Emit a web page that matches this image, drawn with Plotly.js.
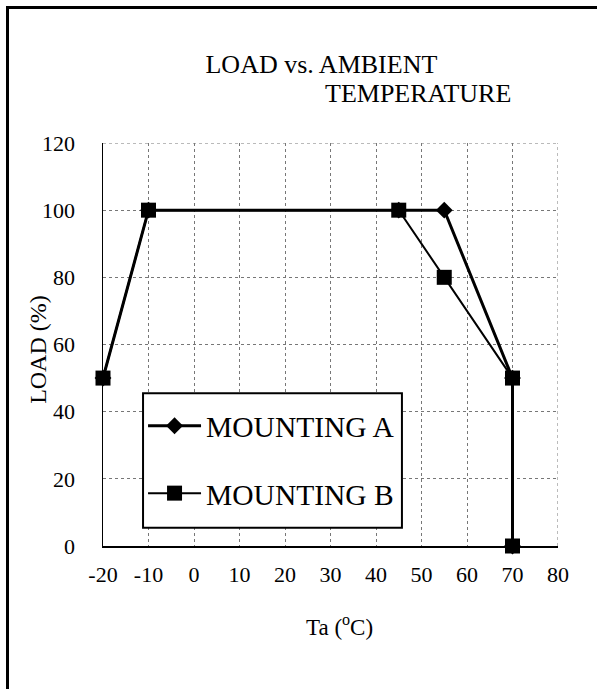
<!DOCTYPE html>
<html>
<head>
<meta charset="utf-8">
<script src="https://cdn.plot.ly/plotly-3.0.1.min.js"></script>
<style>
  html, body { margin:0; padding:0; background:#fff; }
  #wrap { position:relative; width:597px; height:689px; }
  #chart { position:absolute; left:0; top:0; width:597px; height:689px; }
  #frame { position:absolute; left:6px; top:6px; width:600px; height:700px;
           border-left:3px solid #000; border-top:3px solid #000; pointer-events:none; }
</style>
</head>
<body>
<div id="wrap">
  <div id="chart"></div>
  <div id="frame"></div>
</div>
<script>
// Data
const tempA = [-20, -10, 45, 55, 70, 70];
const loadA = [50, 100, 100, 100, 50, 0];
const tempB = [-20, -10, 45, 55, 70, 70];
const loadB = [50, 100, 100, 80, 50, 0];
const seriesNames = ['MOUNTING A', 'MOUNTING B'];
const xTickVals = [-20, -10, 0, 10, 20, 30, 40, 50, 60, 70, 80];
const xTickText = ['-20', '-10', '0', '10', '20', '30', '40', '50', '60', '70', '80'];
const yTickVals = [0, 20, 40, 60, 80, 100, 120];
const yTickText = ['0', '20', '40', '60', '80', '100', '120'];
const titleLine1 = 'LOAD vs. AMBIENT';
const titleLine2 = 'TEMPERATURE';
const xTitle = 'Ta (<sup>o</sup>C)';
const yTitle = 'LOAD (%)';

const FONT = '"Liberation Serif", "Times New Roman", serif';

const traces = [
  {
    x: tempA, y: loadA, name: seriesNames[0], type: 'scatter', mode: 'lines+markers',
    legendgroup: 'a', cliponaxis: false,
    line: {color: '#000', width: 3},
    marker: {symbol: 'diamond', size: 13, color: '#000'}
  },
  {
    x: tempB, y: loadB, name: seriesNames[1], type: 'scatter', mode: 'lines+markers',
    legendgroup: 'b', cliponaxis: false,
    line: {color: '#000', width: 2},
    marker: {symbol: 'square', size: 15, color: '#000'}
  }
];

const gridStyle = {color: '#777', width: 1, dash: 'dot'};

const layout = {
  width: 597, height: 689,
  margin: {l: 103, r: 39, t: 143, b: 143},
  paper_bgcolor: '#fff', plot_bgcolor: '#fff',
  font: {family: FONT, color: '#000', size: 22},
  showlegend: true,
  title: {
    text: titleLine1, font: {family: FONT, size: 26, color: '#000'},
    xref: 'paper', x: 0.48, xanchor: 'center',
    yref: 'container', y: 1 - 64/689, yanchor: 'middle'
  },
  annotations: [
    {
      text: titleLine2, showarrow: false, xref: 'paper', yref: 'paper',
      x: 0.692, y: 1.122, xanchor: 'center', yanchor: 'middle',
      font: {family: FONT, size: 26, color: '#000'}
    },
    // x axis title
    {
      text: xTitle, showarrow: false, xref: 'paper', yref: 'paper',
      x: 0.519, y: -0.197, xanchor: 'center', yanchor: 'middle',
      font: {family: FONT, size: 23, color: '#000'}
    },
    // y axis title
    {
      text: yTitle, showarrow: false, xref: 'paper', yref: 'paper', textangle: -90,
      x: -0.143, y: 0.489, xanchor: 'center', yanchor: 'middle',
      font: {family: FONT, size: 24, color: '#000'}
    }
  ],
  shapes: [
    // top and right border gridlines (dotted, like the other gridlines)
    {type: 'line', xref: 'paper', yref: 'y', x0: 0, x1: 1, y0: 120, y1: 120, line: gridStyle, layer: 'below'},
    {type: 'line', xref: 'x', yref: 'paper', x0: 80, x1: 80, y0: 0, y1: 1, line: gridStyle, layer: 'below'},
    // legend box
    {type: 'rect', xref: 'paper', yref: 'paper', x0: 0.088, x1: 0.657, y0: 0.045, y1: 0.379,
     line: {color: '#000', width: 2}, fillcolor: '#fff', layer: 'above'}
  ],
  xaxis: {
    range: [-20, 80], tickvals: xTickVals, ticktext: xTickText,
    showgrid: true, gridcolor: '#777', griddash: 'dot', gridwidth: 1,
    zeroline: false, showline: true, linecolor: '#000', linewidth: 1.5,
    ticks: '', ticklabelstandoff: 8,
    tickfont: {family: FONT, size: 22, color: '#000'},
    automargin: false, fixedrange: true
  },
  yaxis: {
    range: [0, 120], tickvals: yTickVals, ticktext: yTickText,
    showgrid: true, gridcolor: '#777', griddash: 'dot', gridwidth: 1,
    zeroline: false, showline: true, linecolor: '#000', linewidth: 1.5,
    ticks: '', ticklabelstandoff: 22,
    tickfont: {family: FONT, size: 22, color: '#000'},
    automargin: false, fixedrange: true
  },
  legend: {
    x: 0.088, y: 0.362, xanchor: 'left', yanchor: 'top',
    bgcolor: 'rgba(0,0,0,0)', borderwidth: 0,
    font: {family: FONT, size: 29.5, color: '#000'},
    traceorder: 'grouped', tracegroupgap: 26,
    itemwidth: 53
  }
};

Plotly.newPlot('chart', traces, layout, {displayModeBar: false, staticPlot: true});
</script>
</body>
</html>
